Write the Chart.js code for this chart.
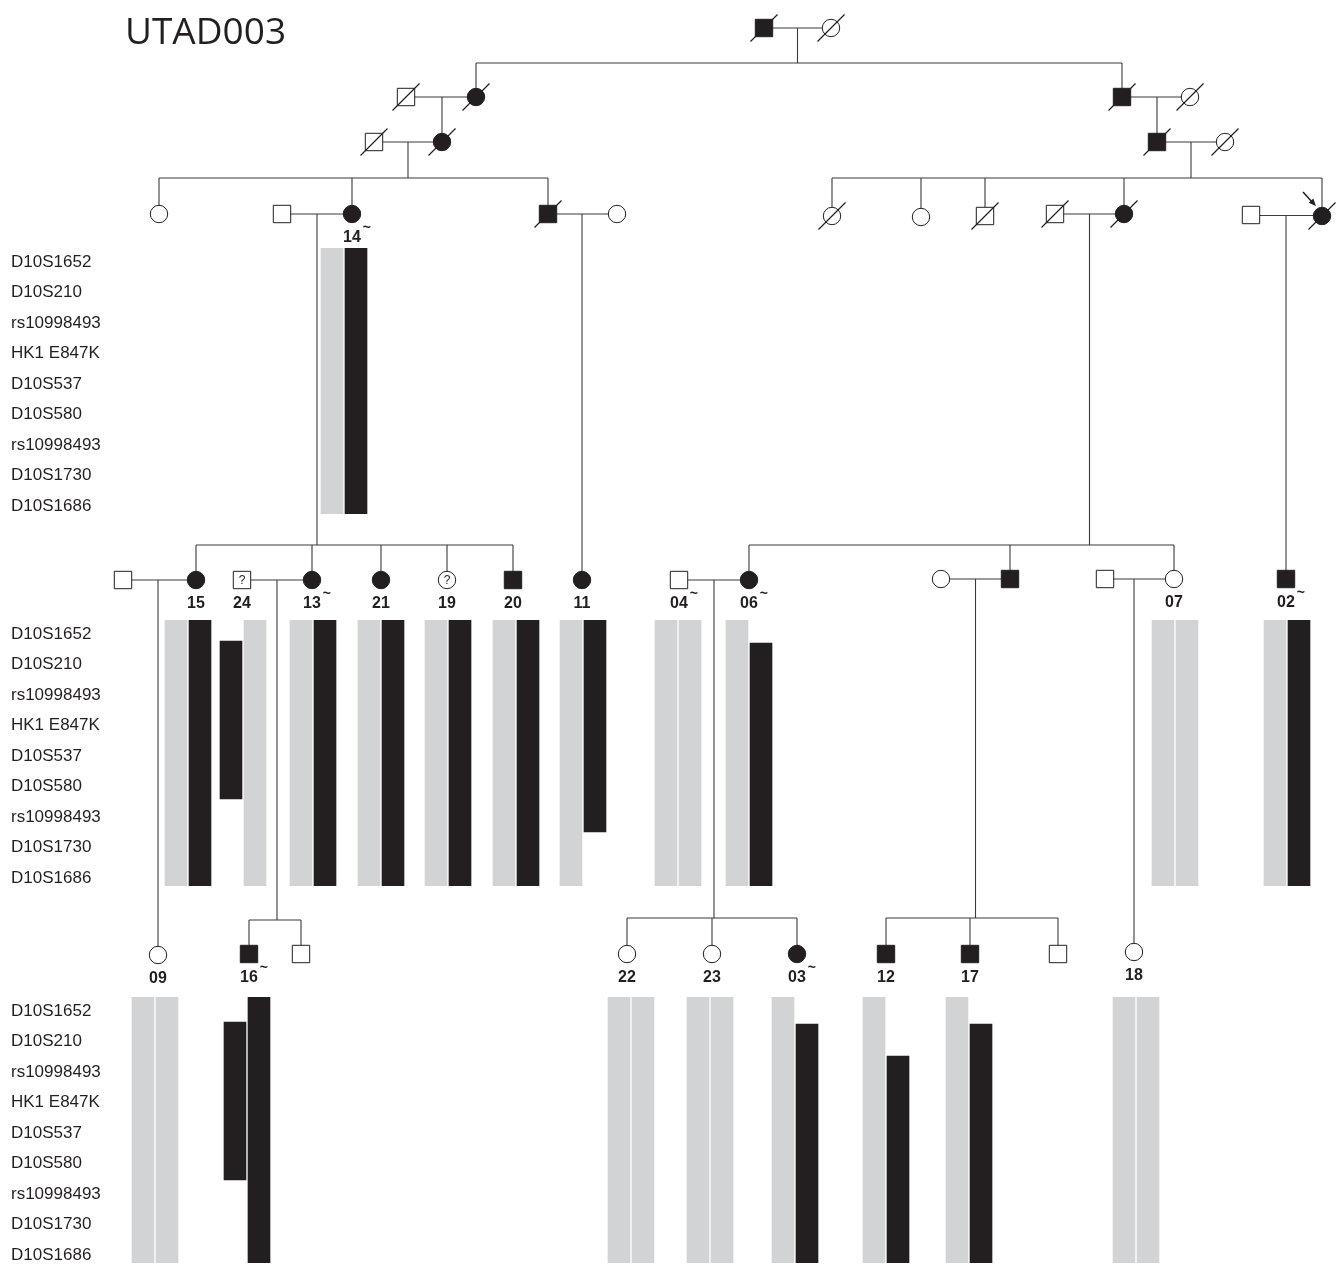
<!DOCTYPE html>
<html>
<head>
<meta charset="utf-8">
<title>UTAD003</title>
<script src="https://cdn.jsdelivr.net/npm/chart.js@4.4.0/dist/chart.umd.min.js"></script>
<style>
  html, body { margin: 0; padding: 0; background: #fff; }
  #wrap { width: 1341px; height: 1265px; }
</style>
</head>
<body>
<div id="wrap"><canvas id="ped" width="1341" height="1265"></canvas></div>
<script>
// UTAD003 pedigree + chr10 haplotypes around HK1 E847K

// ===== DATA =====
const title = 'UTAD003';
const markerNames = ['D10S1652', 'D10S210', 'rs10998493', 'HK1 E847K', 'D10S537', 'D10S580', 'rs10998493', 'D10S1730', 'D10S1686'];

// individuals (A = gen I ... F = gen VI)
const indKey    = ['A1','A2','B1','B2','B3','B4','C1','C2','C3','C4',
                   'D1','D2','D3','D4','D5','D6','D7','D8','D9','D10','D11','D12',
                   'E1','E2','E3','E4','E5','E6','E7','E8','E9','E10','E11','E12','E13','E14','E15',
                   'F1','F2','F3','F4','F5','F6','F7','F8','F9','F10'];
const indSex    = ['m','f','m','f','m','f','m','f','m','f',
                   'f','m','f','m','f','f','f','m','m','f','m','f',
                   'm','f','m','f','f','f','m','f','m','f','f','m','m','f','m',
                   'f','m','m','f','f','f','m','m','m','f'];
// 1 affected, 0 unaffected, 2 unknown (?)
const indStatus = [1,0,0,1,1,0,0,1,1,0,
                   0,0,1,1,0,0,0,0,0,1,0,1,
                   0,1,2,1,1,2,1,1,0,1,0,1,0,0,1,
                   0,1,0,0,0,1,1,1,0,0];
const indDead   = [1,1,1,1,1,1,1,1,1,1,
                   0,0,0,1,0,1,0,1,1,1,0,1,
                   0,0,0,0,0,0,0,0,0,0,0,0,0,0,0,
                   0,0,0,0,0,0,0,0,0,0];
const indLabel  = ['','','','','','','','','','',
                   '','','14','','','','','','','','','',
                   '','15','24','13','21','19','20','11','04','06','','','','07','02',
                   '09','16','','22','23','03','12','17','','18'];
const tildeIds  = ['14', '13', '04', '06', '02', '16', '03'];
const proband   = 'D12';

// matings: [partner, partner, children]
const matings = [
  ['A1', 'A2', ['B2', 'B3']],
  ['B1', 'B2', ['C2']],
  ['B3', 'B4', ['C3']],
  ['C1', 'C2', ['D1', 'D3', 'D4']],
  ['C3', 'C4', ['D6', 'D7', 'D8', 'D10', 'D12']],
  ['D2', 'D3', ['E2', 'E4', 'E5', 'E6', 'E7']],
  ['D4', 'D5', ['E8']],
  ['D9', 'D10', ['E10', 'E12', 'E14']],
  ['D11', 'D12', ['E15']],
  ['E1', 'E2', ['F1']],
  ['E3', 'E4', ['F2', 'F3']],
  ['E9', 'E10', ['F4', 'F5', 'F6']],
  ['E11', 'E12', ['F7', 'F8', 'F9']],
  ['E13', 'E14', ['F10']]
];

// haplotypes: owner label, left strand, right strand; strand = [colour, first, last] in marker units
// (g = grey / non-risk, b = black / risk)
const hapOwner = ['14', '15', '24', '13', '21', '19', '20', '11', '04', '06', '07', '02',
                  '09', '16', '22', '23', '03', '12', '17', '18'];
const hapLeft  = [['g',-0.45,8.25], ['g',-0.45,8.25], ['b',0.23,5.41], ['g',-0.45,8.25], ['g',-0.45,8.25],
                  ['g',-0.45,8.25], ['g',-0.45,8.25], ['g',-0.45,8.25], ['g',-0.45,8.25], ['g',-0.45,8.25],
                  ['g',-0.45,8.25], ['g',-0.45,8.25], ['g',-0.45,8.25], ['b',0.36,5.54], ['g',-0.45,8.25],
                  ['g',-0.45,8.25], ['g',-0.45,8.25], ['g',-0.45,8.25], ['g',-0.45,8.25], ['g',-0.45,8.25]];
const hapRight = [['b',-0.45,8.25], ['b',-0.45,8.25], ['g',-0.45,8.25], ['b',-0.45,8.25], ['b',-0.45,8.25],
                  ['b',-0.45,8.25], ['b',-0.45,8.25], ['b',-0.45,6.49], ['g',-0.45,8.25], ['b',0.3,8.25],
                  ['g',-0.45,8.25], ['b',-0.45,8.25], ['g',-0.45,8.25], ['b',-0.45,8.25], ['g',-0.45,8.25],
                  ['g',-0.45,8.25], ['b',0.43,8.25], ['b',1.48,8.25], ['b',0.43,8.25], ['g',-0.45,8.25]];

// ===== LAYOUT (page units) =====
const indPos = {
  A1: [764, 28], A2: [831, 28],
  B1: [406, 97], B2: [476, 97], B3: [1122, 97], B4: [1190, 97],
  C1: [374, 142], C2: [442, 142], C3: [1157, 142], C4: [1225, 142],
  D1: [159, 214], D2: [282, 214], D3: [352, 214], D4: [548, 214], D5: [617, 214],
  D6: [832, 216], D7: [921, 217], D8: [985, 216], D9: [1055, 214], D10: [1124, 214],
  D11: [1251, 215], D12: [1322, 216],
  E1: [123, 580], E2: [196, 580], E3: [242, 580], E4: [312, 580], E5: [381, 580],
  E6: [447, 580], E7: [513, 580], E8: [582, 580], E9: [679, 580], E10: [749, 580],
  E11: [941, 579], E12: [1010, 579], E13: [1105, 579], E14: [1174, 579], E15: [1286, 579],
  F1: [158, 955], F2: [249, 954], F3: [301, 954], F4: [627, 954], F5: [712, 954],
  F6: [797, 954], F7: [886, 954], F8: [970, 954], F9: [1058, 954], F10: [1134, 952]
};
const sibLineY = [63, 0, 0, 178, 178, 545, 0, 545, 0, 0, 920, 918, 918, 0];
const hapCentre = { '14': 344, '15': 188, '24': 243, '13': 313, '21': 381, '19': 448, '20': 516, '11': 583,
                    '04': 678, '06': 749, '07': 1175, '02': 1287, '09': 155, '16': 247, '22': 631, '23': 710,
                    '03': 795, '12': 886, '17': 969, '18': 1136 };
const markerTop = [262, 634, 1011];   // first marker row for each genotyped generation
const markerStep = 30.5;
const INK = '#231f20', GREY = '#d1d3d4', LINE = '#3c3a3b';

// ===== BUILD =====
const P = {};
indKey.forEach((k, i) => {
  P[k] = { key: k, x: indPos[k][0], y: indPos[k][1], sex: indSex[i], st: indStatus[i], dead: indDead[i], label: indLabel[i] };
});
const byLabel = {};
Object.values(P).forEach(p => { if (p.label) byLabel[p.label] = p; });

const my = (blk, pos) => markerTop[blk] + pos * markerStep;
const blockOf = key => ({ D: 0, E: 1, F: 2 })[key[0]];

const barRows = [];
hapOwner.forEach((o, i) => {
  const blk = blockOf(byLabel[o].key), cx = hapCentre[o];
  [hapLeft[i], hapRight[i]].forEach((s, k) => {
    barRows.push({ x: cx + (k ? 12 : -12), y: [my(blk, s[1]), my(blk, s[2])], c: s[0] });
  });
});

const segs = [];
function seg(x1, y1, x2, y2) { segs.push({ x: x1, y: y1 }, { x: x2, y: y2 }, { x: x2, y: null }); }
matings.forEach(([a, b, kids], i) => {
  const pa = P[a], pb = P[b];
  const cy = (pa.y + pb.y) / 2;
  seg(pa.x, cy, pb.x, cy);
  if (kids.length === 1) {
    const k = P[kids[0]];
    seg(k.x, cy, k.x, k.y);
  } else {
    const sy = sibLineY[i], mx = (pa.x + pb.x) / 2;
    const xs = kids.map(k => P[k].x);
    seg(mx, cy, mx, sy);
    seg(Math.min(...xs, mx), sy, Math.max(...xs, mx), sy);
    kids.forEach(k => seg(P[k].x, sy, P[k].x, P[k].y));
  }
});

const slashes = [];
Object.values(P).filter(p => p.dead).forEach(p => {
  slashes.push({ x: p.x - 13.5, y: p.y + 13.5 }, { x: p.x + 13.5, y: p.y - 13.5 }, { x: p.x, y: null });
});

const symbols = Object.values(P).map(p => ({ x: p.x, y: p.y, p }));

// ===== TEXT PLUGIN =====
const textPlugin = {
  id: 'pedText',
  afterDatasetsDraw(chart) {
    const ctx = chart.ctx, xs = chart.scales.x, ys = chart.scales.y;
    const px = v => xs.getPixelForValue(v), py = v => ys.getPixelForValue(v);
    ctx.save();
    ctx.fillStyle = INK;

    ctx.font = '37px "Open Sans", "Liberation Sans", sans-serif';
    ctx.textAlign = 'left';
    ctx.textBaseline = 'alphabetic';
    ctx.fillText(title, px(125), py(44));

    ctx.font = '17px "Liberation Sans", Arial, sans-serif';
    ctx.textBaseline = 'middle';
    markerTop.forEach((t, b) => {
      markerNames.forEach((m, i) => ctx.fillText(m, px(11), py(my(b, i))));
    });

    ctx.textAlign = 'center';
    Object.values(P).forEach(p => {
      if (!p.label) return;
      const lx = px(p.x), ly = py(p.y + 24);
      ctx.font = 'bold 16px "Liberation Sans", Arial, sans-serif';
      ctx.fillText(p.label, lx, ly);
      if (tildeIds.includes(p.label)) {
        const w = ctx.measureText(p.label).width;
        ctx.font = 'bold 14px "Liberation Sans", Arial, sans-serif';
        ctx.fillText('~', lx + w / 2 + 6, ly - 10);
      }
    });

    ctx.font = '12px "Liberation Sans", Arial, sans-serif';
    Object.values(P).filter(p => p.st === 2).forEach(p => ctx.fillText('?', px(p.x), py(p.y + 0.5)));

    // proband arrow
    const pb = P[proband];
    const x0 = px(pb.x - 19), y0 = py(pb.y - 24), x1 = px(pb.x - 6), y1 = py(pb.y - 10);
    ctx.strokeStyle = INK; ctx.lineWidth = 1.5;
    ctx.beginPath(); ctx.moveTo(x0, y0); ctx.lineTo(x1 - 3, y1 - 3); ctx.stroke();
    const ang = Math.atan2(y1 - y0, x1 - x0);
    ctx.beginPath();
    ctx.moveTo(x1, y1);
    ctx.lineTo(x1 - 8 * Math.cos(ang - 0.4), y1 - 8 * Math.sin(ang - 0.4));
    ctx.lineTo(x1 - 8 * Math.cos(ang + 0.4), y1 - 8 * Math.sin(ang + 0.4));
    ctx.closePath(); ctx.fill();
    ctx.restore();
  }
};

// ===== CHART =====
new Chart(document.getElementById('ped'), {
  type: 'scatter',
  data: {
    datasets: [
      { type: 'line', label: 'lines', data: segs, borderColor: LINE, borderWidth: 1.1, pointRadius: 0,
        spanGaps: false, fill: false, tension: 0, order: 3, clip: false },
      { type: 'bar', label: 'haplotypes', data: barRows, barThickness: 22, borderWidth: 0, order: 2,
        backgroundColor: c => (c.raw && c.raw.c === 'b') ? INK : GREY },
      { type: 'scatter', label: 'individuals', data: symbols, order: 1, clip: false,
        pointStyle: c => c.raw.p.sex === 'm' ? 'rect' : 'circle',
        pointRadius: c => c.raw.p.sex === 'm' ? 12.3 : 8.7,
        backgroundColor: c => c.raw.p.st === 1 ? INK : '#ffffff',
        borderColor: INK, borderWidth: 1 },
      { type: 'line', label: 'deceased', data: slashes, borderColor: INK, borderWidth: 1.2, pointRadius: 0,
        spanGaps: false, fill: false, order: 0, clip: false }
    ]
  },
  options: {
    responsive: false,
    animation: false,
    events: [],
    layout: { padding: 0, autoPadding: false },
    plugins: { legend: { display: false }, tooltip: { enabled: false } },
    scales: {
      x: { type: 'linear', min: 0, max: 1341, display: false, offset: false },
      y: { type: 'linear', min: 0, max: 1265, reverse: true, display: false }
    }
  },
  plugins: [textPlugin]
});
</script>
</body>
</html>
